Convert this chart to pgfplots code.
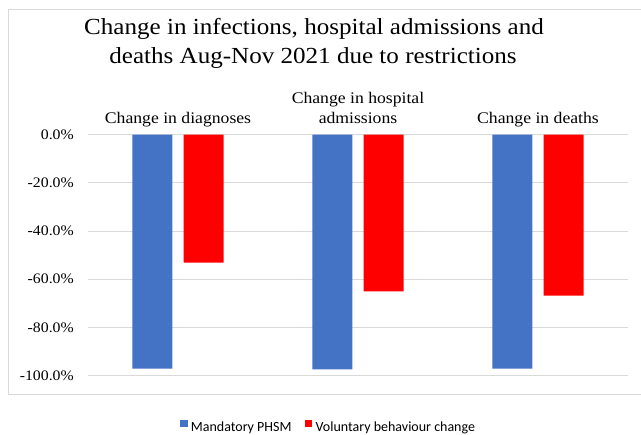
\documentclass[border=0pt]{standalone}
\usepackage{pgfplots}
\pgfplotsset{compat=1.18}
\usepackage{fontspec}
\setmainfont{Liberation Serif}[FakeStretch=1.09]
\newfontfamily\legfont{Carlito}
\definecolor{barblue}{HTML}{4472C4}
\definecolor{barred}{HTML}{FF0000}
\definecolor{gridgray}{HTML}{D9D9D9}
\begin{document}
\begin{tikzpicture}[x=1pt,y=1pt]
\useasboundingbox (0,0) rectangle (641,435);
\fill[white] (0,0) rectangle (641,435);
\draw[gridgray, line width=1pt] (8.5,40) rectangle (645,425.5);
\node[anchor=base, font=\fontsize{23}{27}\selectfont, inner sep=0pt] at (314,400) {Change in infections, hospital admissions and};
\node[anchor=base, font=\fontsize{23}{27}\selectfont, inner sep=0pt] at (313,371.7) {deaths Aug-Nov 2021 due to restrictions};
\begin{axis}[
  at={(88pt,59.5pt)}, anchor=south west, scale only axis,
  width=540pt, height=240.8pt,
  xmin=-0.5, xmax=2.5, ymin=-100, ymax=0,
  axis line style={draw=none}, major tick length=0pt,
  xtick=\empty,
  ytick={-100,-80,-60,-40,-20,0},
  yticklabels={-100.0\%,-80.0\%,-60.0\%,-40.0\%,-20.0\%,0.0\%},
  ymajorgrids, grid style={gridgray, line width=1pt},
  yticklabel style={font=\fontsize{14.5}{17}\selectfont, inner sep=0pt, anchor=east, xshift=-14pt},
  clip=false,
  legend columns=2,
  legend style={at={(0.1704,-0.2126)}, anchor=west, draw=none, fill=none,
    font=\legfont\fontsize{14}{16}\selectfont, inner sep=0pt,
    nodes={inner sep=0pt},
    /tikz/every odd column/.append style={column sep=3.4pt},
    /tikz/every even column/.append style={column sep=13.3pt}},
]
\addplot[ybar, bar width=40pt, bar shift=-25.7pt, fill=barblue, draw=none,
  legend image code/.code={\fill[barblue] (0pt,0.2pt) rectangle (7.3pt,7.5pt);}]
  coordinates {(0,-97.2) (1,-97.5) (2,-97.1)};
\addplot[ybar, bar width=40pt, bar shift=25.7pt, fill=barred, draw=none,
  legend image code/.code={\fill[barred] (0pt,0.2pt) rectangle (7.3pt,7.5pt);}]
  coordinates {(0,-53.1) (1,-65.1) (2,-66.8)};
\legend{Mandatory PHSM, Voluntary behaviour change}
\node[anchor=base, font=\fontsize{16.2}{19}\selectfont, inner sep=0pt] at (axis cs:0,4.73) {Change in diagnoses};
\node[anchor=base, font=\fontsize{16.2}{19}\selectfont, inner sep=0pt] at (axis cs:1,13.04) {Change in hospital};
\node[anchor=base, font=\fontsize{16.2}{19}\selectfont, inner sep=0pt] at (axis cs:1,4.73) {admissions};
\node[anchor=base, font=\fontsize{16.2}{19}\selectfont, inner sep=0pt] at (axis cs:2,4.73) {Change in deaths};
\end{axis}
\end{tikzpicture}
\end{document}
